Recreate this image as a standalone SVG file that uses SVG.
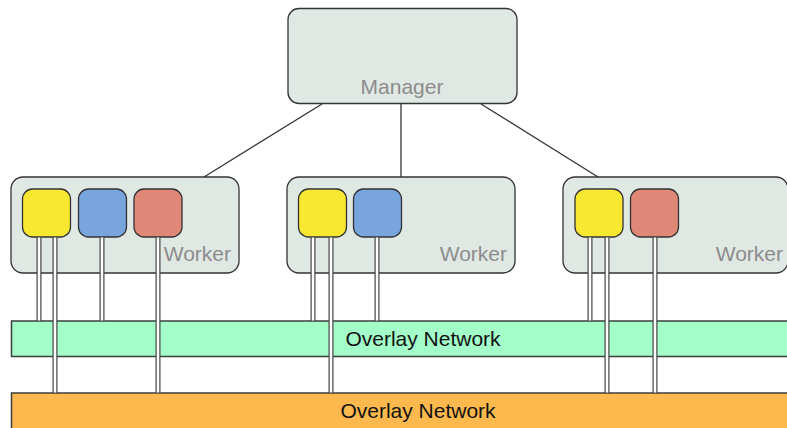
<svg xmlns="http://www.w3.org/2000/svg" width="787" height="428" viewBox="0 0 787 428">
  <style>
    .box { fill: #e0e8e4; stroke: #333; stroke-width: 1.3; }
    .ctr { stroke: #333; stroke-width: 1.3; }
    .yellow { fill: #f9e831; }
    .blue { fill: #78a5dc; }
    .red { fill: #df8877; }
    .net { stroke: #3a3f3c; stroke-width: 1.5; }
    .label { font-family: "Liberation Sans", Arial, sans-serif; font-size: 21px; }
    .grey { fill: #8c8c8c; }
    .dark { fill: #111; }
    .link { stroke: #333; stroke-width: 1.3; fill: none; }
    .pipe-out { stroke: #444; stroke-width: 5; fill: none; }
    .pipe-in { stroke: #fff; stroke-width: 2.6; fill: none; }
  </style>
  <rect width="787" height="428" fill="#fff"/>

  <!-- overlay networks -->
  <g id="net-green">
    <rect class="net" x="11.5" y="321" width="790" height="35.5" fill="#a3fdc9"/>
    <text class="label dark" x="423" y="346" text-anchor="middle">Overlay Network</text>
  </g>
  <g id="net-orange">
    <rect class="net" x="11.5" y="393" width="790" height="45" fill="#fdb94d"/>
    <text class="label dark" x="418" y="418" text-anchor="middle">Overlay Network</text>
  </g>

  <!-- manager to worker links -->
  <g id="connectors">
    <line class="link" x1="322" y1="104" x2="204" y2="177"/>
    <line class="link" x1="401" y1="104" x2="401" y2="177"/>
    <line class="link" x1="481" y1="104" x2="598" y2="177"/>
  </g>

  <g id="manager">
    <rect class="box" x="288" y="8.5" width="229" height="95" rx="11"/>
    <text class="label grey" x="402" y="94" text-anchor="middle">Manager</text>
  </g>

  <g id="worker-1">
    <rect class="box" x="11" y="177" width="228" height="96" rx="12"/>
    <text class="label grey" x="231" y="261" text-anchor="end">Worker</text>
    <rect class="ctr yellow" x="22.5" y="189" width="48" height="48" rx="10"/>
    <rect class="ctr blue" x="78.5" y="189" width="48" height="48" rx="10"/>
    <rect class="ctr red" x="134" y="189" width="48" height="48" rx="10"/>
  </g>

  <g id="worker-2">
    <rect class="box" x="287" y="177" width="228" height="96" rx="12"/>
    <text class="label grey" x="507" y="261" text-anchor="end">Worker</text>
    <rect class="ctr yellow" x="298.5" y="189" width="48" height="48" rx="10"/>
    <rect class="ctr blue" x="353.5" y="189" width="48" height="48" rx="10"/>
  </g>

  <g id="worker-3">
    <rect class="box" x="563" y="177" width="225" height="96" rx="12"/>
    <text class="label grey" x="783" y="261" text-anchor="end">Worker</text>
    <rect class="ctr yellow" x="575" y="189" width="48" height="48" rx="10"/>
    <rect class="ctr red" x="630.5" y="189" width="48" height="48" rx="10"/>
  </g>

  <!-- container attachments to the networks -->
  <g id="attachments">
    <path class="pipe-out" d="M39 237V321M55 237V393M102 237V321M158 237V393M313 237V321M331 237V393M377 237V321M590 237V321M607 237V393M655 237V393"/>
    <path class="pipe-in" d="M39 237.5V320.5M55 237.5V392.5M102 237.5V320.5M158 237.5V392.5M313 237.5V320.5M331 237.5V392.5M377 237.5V320.5M590 237.5V320.5M607 237.5V392.5M655 237.5V392.5"/>
  </g>
</svg>
